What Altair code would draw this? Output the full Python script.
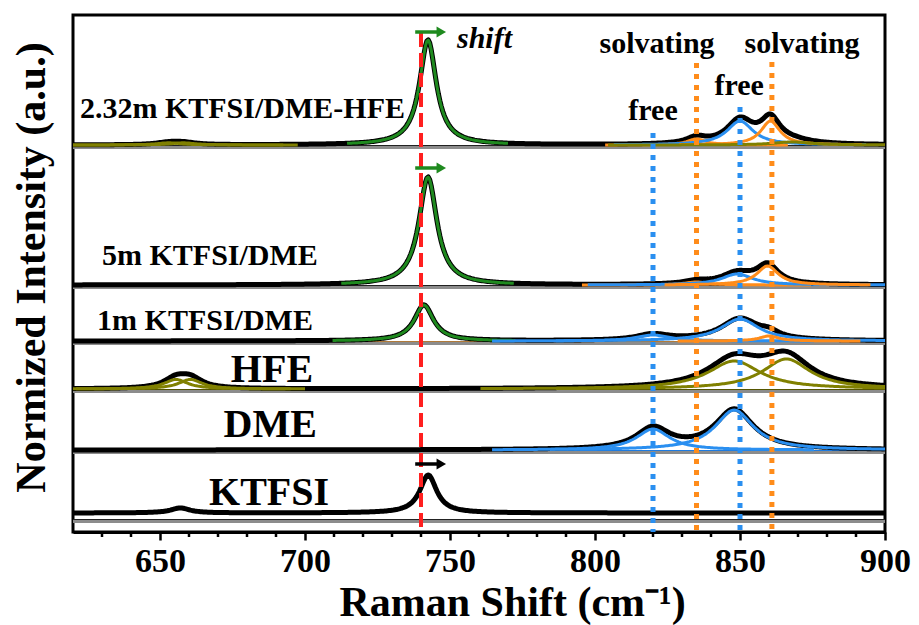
import altair as alt
import numpy as np
import pandas as pd

# ---------------- data ----------------
panel_names = ["2.32m KTFSI/DME-HFE", "5m KTFSI/DME", "1m KTFSI/DME", "HFE", "DME", "KTFSI"]
panel_offsets = [387, 247, 191, 143, 82, 19]          # vertical offset of each spectrum
separator_levels = [385, 245, 189, 141, 80, 11]       # grey separator under each spectrum
separator_colors = ["#222222", "#222222", "#b07a3a", "#555500", "#1e7be0", "#222222"]

GREEN, BLUE, ORANGE, OLIVE, BLACK = "#1f8a1f", "#2a8ff0", "#ff8c1a", "#808000", "#000000"

# fitted peaks: panel, centre (cm-1), height, FWHM, colour
comp_panel  = [0, 0, 0, 0, 0, 0, 0,
               1, 1, 1, 1,
               2, 2, 2, 2,
               3, 3, 3, 3,
               4, 4,
               5, 5]
comp_center = [653, 658, 742.4, 835, 850, 860.5, 868,
               742.4, 835, 849, 859.5,
               741, 820, 850, 860,
               655.5, 660.5, 848, 866,
               820, 848,
               657, 742.5]
comp_height = [2.2, 2.2, 105, 6, 24, 24, 3,
               108, 3, 11, 19,
               36, 6, 22, 5,
               9.5, 9.5, 28, 30,
               21, 40,
               5, 38]
comp_fwhm   = [10, 10, 7, 8, 11, 8, 16,
               7.5, 10, 13, 9,
               8, 14, 16, 8,
               10, 10, 22, 20,
               14, 16,
               8, 7]
comp_color  = [OLIVE, OLIVE, GREEN, ORANGE, BLUE, ORANGE, OLIVE,
               GREEN, ORANGE, BLUE, ORANGE,
               GREEN, BLUE, BLUE, ORANGE,
               OLIVE, OLIVE, OLIVE, OLIVE,
               BLUE, BLUE,
               BLACK, BLACK]

# reference lines: position, top of line, colour
guide_x     = [740, 820, 850, 835, 861]
guide_top   = [499, 399, 425, 469, 470]
guide_color = ["#ff1f1f", BLUE, BLUE, ORANGE, ORANGE]

# arrows marking the shift
arrow_x0    = [738, 738, 738]
arrow_x1    = [747, 747, 747]
arrow_y     = [500, 364, 68]
arrow_color = [GREEN, GREEN, BLACK]

# text annotations
label_text  = ["2.32m KTFSI/DME-HFE", "5m KTFSI/DME", "1m KTFSI/DME", "HFE", "DME", "KTFSI",
               "solvating", "solvating", "free", "free"]
label_x     = [622.4, 630, 628.3, 688.6, 688, 687.6, 821.4, 871.4, 820, 849.7]
label_y     = [414, 267, 202, 150, 95, 27, 479, 479, 412, 437]
label_size  = [30, 30, 30, 40, 40, 40, 30, 30, 30, 30]
label_align = ["left", "left", "left", "center", "center", "center", "center", "center", "center", "center"]

shift_x, shift_y = 752.4, 484

major_ticks = [650, 700, 750, 800, 850, 900]
minor_ticks = [630, 640, 660, 670, 680, 690, 710, 720, 730, 740, 760, 770, 780, 790,
               810, 820, 830, 840, 860, 870, 880, 890]

# ---------------- build tables ----------------
xs = np.round(np.arange(620, 900.001, 0.5), 2)
env_rows, comp_rows = [], []
for p, off in enumerate(panel_offsets):
    total = np.zeros_like(xs)
    for i in range(len(comp_panel)):
        if comp_panel[i] != p:
            continue
        yv = comp_height[i] / (1 + ((xs - comp_center[i]) / (comp_fwhm[i] / 2)) ** 2)
        total = total + yv
        if comp_color[i] != BLACK:
            m = np.abs(xs - comp_center[i]) < 4 * comp_fwhm[i]
            for xx, yy in zip(xs[m], yv[m]):
                comp_rows.append({"x": float(xx), "y": round(off + float(yy), 2),
                                  "series": f"c{i}", "color": comp_color[i]})
    for xx, yy in zip(xs, total):
        env_rows.append({"x": float(xx), "y": round(off + float(yy), 2), "series": f"p{p}"})

env_df = pd.DataFrame(env_rows)
comp_df = pd.DataFrame(comp_rows)
sep_df = pd.DataFrame({"level": separator_levels, "line": [v + 1.5 for v in separator_levels],
                       "color": separator_colors})
guide_df = pd.DataFrame({"x": guide_x, "top": guide_top, "bottom": [0] * len(guide_x),
                         "color": guide_color})
arrow_df = pd.DataFrame({"x0": arrow_x0, "x1": arrow_x1, "y": arrow_y, "color": arrow_color})
label_df = pd.DataFrame({"text": label_text, "x": label_x, "y": label_y, "size": label_size,
                         "align": label_align})
minor_df = pd.DataFrame({"x": minor_ticks})

FONT = "Liberation Serif"
xscale = alt.Scale(domain=[620, 900], nice=False, zero=False)
yscale = alt.Scale(domain=[0, 517], nice=False, zero=False)

X = alt.X("x:Q", scale=xscale, axis=alt.Axis(
    title="Raman Shift (cm⁻¹)", values=major_ticks,
    labelOverlap=False, labelFlush=False, labelBound=False,
    tickSize=8, tickWidth=2.5, tickColor="black", domainColor="black", domainWidth=3,
    labelFont=FONT, labelFontSize=34, labelFontWeight="bold", labelColor="black",
    labelPadding=4, grid=False,
    titleFont=FONT, titleFontSize=42, titleFontWeight="bold", titleColor="black",
    titleBaseline="alphabetic", titleY=83, titleX=439))
Y = alt.Y("y:Q", scale=yscale, axis=alt.Axis(
    title="Normized Intensity (a.u.)", labels=False, ticks=False, domain=False, grid=False,
    titleFont=FONT, titleFontSize=42, titleFontWeight="bold", titleColor="black",
    titleX=-42, titleY=252, titleAlign="center", titleBaseline="middle", titleAngle=270))

sep_grey = alt.Chart(sep_df).mark_rule(color="#8c8c8c", strokeWidth=4).encode(
    y=alt.Y("level:Q", scale=yscale))
sep_line = alt.Chart(sep_df).mark_rule(strokeWidth=1.2).encode(
    y=alt.Y("line:Q", scale=yscale), color=alt.Color("color:N", scale=None))

env = alt.Chart(env_df).mark_line(color="black", strokeWidth=5, strokeJoin="round").encode(
    x=X, y=Y, detail="series:N")
comps = alt.Chart(comp_df).mark_line(strokeWidth=3, strokeJoin="round").encode(
    x=alt.X("x:Q", scale=xscale), y=alt.Y("y:Q", scale=yscale), detail="series:N",
    color=alt.Color("color:N", scale=None))

red = alt.Chart(guide_df.iloc[[0]]).mark_rule(strokeWidth=4, strokeDash=[14, 6]).encode(
    x=alt.X("x:Q", scale=xscale), y=alt.Y("top:Q", scale=yscale), y2="bottom:Q",
    color=alt.Color("color:N", scale=None))
dots = alt.Chart(guide_df.iloc[1:]).mark_rule(strokeWidth=5, strokeDash=[5, 6]).encode(
    x=alt.X("x:Q", scale=xscale), y=alt.Y("top:Q", scale=yscale), y2="bottom:Q",
    color=alt.Color("color:N", scale=None))

minor = alt.Chart(minor_df).mark_rule(color="black", strokeWidth=2.5).encode(
    x=alt.X("x:Q", scale=xscale), y=alt.value(517), y2=alt.value(522))

arrow_shaft = alt.Chart(arrow_df).mark_rule(strokeWidth=3.5).encode(
    x=alt.X("x0:Q", scale=xscale), x2="x1:Q", y=alt.Y("y:Q", scale=yscale),
    color=alt.Color("color:N", scale=None))
arrow_head = alt.Chart(arrow_df).mark_point(shape="triangle-right", filled=True, size=120,
                                            opacity=1).encode(
    x=alt.X("x1:Q", scale=xscale), y=alt.Y("y:Q", scale=yscale),
    color=alt.Color("color:N", scale=None))

def text_layer(align):
    return alt.Chart(label_df[label_df["align"] == align]).mark_text(
        font=FONT, fontWeight="bold", baseline="alphabetic", align=align, color="black"
    ).encode(
        x=alt.X("x:Q", scale=xscale), y=alt.Y("y:Q", scale=yscale),
        text="text:N", size=alt.Size("size:Q", scale=None))

labels_left = text_layer("left")
labels_center = text_layer("center")

shift = alt.Chart(pd.DataFrame({"x": [shift_x], "y": [shift_y], "t": ["shift"]})).mark_text(
    font=FONT, fontWeight="bold", fontStyle="italic", fontSize=30, align="left",
    baseline="alphabetic", color="black").encode(
    x=alt.X("x:Q", scale=xscale), y=alt.Y("y:Q", scale=yscale), text="t:N")

chart = alt.layer(sep_grey, sep_line, env, comps, red, dots, minor, arrow_shaft, arrow_head,
                  labels_left, labels_center, shift).properties(
    width=812, height=517, autosize="none",
    padding={"left": 73, "top": 15, "right": 34, "bottom": 93},
    background="white"
).configure_view(stroke="black", strokeWidth=3
).configure_axisX(labelOverlap=False, labelBound=False, labelFlush=False,
                  values=major_ticks)

chart.save("out.html", embed_options={"renderer": "svg", "actions": False})
